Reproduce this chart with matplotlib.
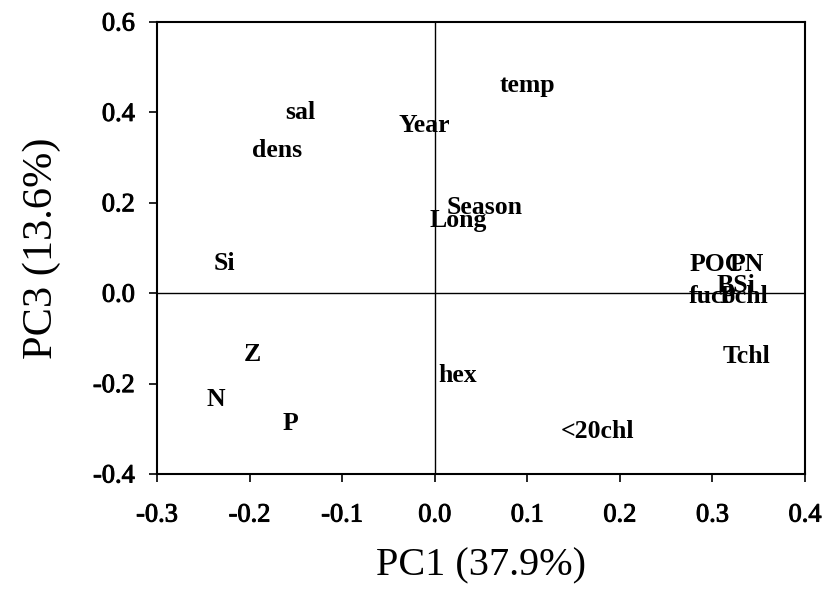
import matplotlib
matplotlib.use("Agg")
import matplotlib.pyplot as plt
import matplotlib.patheffects as pe

# PCA loadings (PC1 vs PC3)
variables = ["temp", "sal", "dens", "Year", "Season", "Long", "Si",
             "POC", "PN", "BSi", "fuco", "Pchl", "Tchl",
             "Z", "N", "P", "hex", "<20chl"]
pc1 = [0.100, -0.145, -0.170, -0.011, 0.054, 0.025, -0.227,
       0.305, 0.337, 0.326, 0.300, 0.334, 0.337,
       -0.197, -0.236, -0.156, 0.025, 0.176]
pc3 = [0.46, 0.40, 0.316, 0.372, 0.19, 0.161, 0.066,
       0.064, 0.064, 0.018, -0.007, -0.007, -0.139,
       -0.135, -0.235, -0.288, -0.181, -0.307]

xticks = [-0.3, -0.2, -0.1, 0.0, 0.1, 0.2, 0.3, 0.4]
yticks = [-0.4, -0.2, 0.0, 0.2, 0.4, 0.6]

plt.rcParams["font.family"] = ["Liberation Serif", "DejaVu Serif"]

fig = plt.figure(figsize=(8.3, 5.95), dpi=100)
ax = fig.add_axes([157/830, 1 - 474/595, (805 - 157)/830, (474 - 22)/595])

for name, x, y in zip(variables, pc1, pc3):
    ax.text(x, y, name, ha="center", va="center", fontsize=18.5,
            fontweight="bold", color="black")

ax.axhline(0, color="black", lw=1.0)
ax.axvline(0, color="black", lw=1.0)

ax.set_xlim(-0.3, 0.4)
ax.set_ylim(-0.4, 0.6)
ax.set_xticks(xticks)
ax.set_yticks(yticks)
ax.set_xticklabels([f"{v:.1f}" for v in xticks])
ax.set_yticklabels([f"{v:.1f}" for v in yticks])
ax.tick_params(direction="out", length=6, width=1.2, labelsize=19)
ax.tick_params(axis="x", pad=16)
ax.tick_params(axis="y", pad=10)
heavy = [pe.withStroke(linewidth=0.7, foreground="black")]
for lbl in ax.get_xticklabels() + ax.get_yticklabels():
    lbl.set_path_effects(heavy)
for s in ax.spines.values():
    s.set_linewidth(1.5)

ax.set_xlabel("PC1 (37.9%)", fontsize=29, labelpad=15)
ax.set_ylabel("PC3 (13.6%)", fontsize=30.5, labelpad=23)

fig.savefig("out.png", dpi=100)
